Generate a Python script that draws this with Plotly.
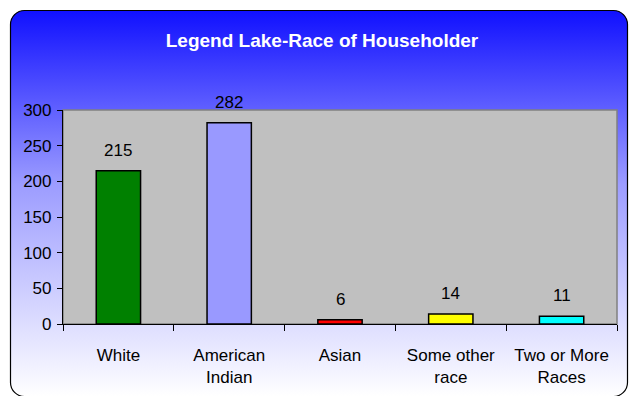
import base64
import plotly.graph_objects as go

# Householder counts by race, Legend Lake
categories = ["White", "American<br>Indian", "Asian", "Some other<br>race", "Two or More<br>Races"]
households = [215, 282, 6, 14, 11]
bar_colors = ["#008000", "#9999FF", "#FF0000", "#FFFF00", "#00FFFF"]
y_ticks = [0, 50, 100, 150, 200, 250, 300]

W, H = 636, 396
ML, MR, MT, MB = 63, 19, 110, 72
pw, ph = W - ML - MR, H - MT - MB

FONT = "Liberation Sans Narrow, Arial Narrow, Liberation Sans, Arial, sans-serif"

# rounded frame with a blue-to-white vertical gradient
svg = f"""<svg xmlns='http://www.w3.org/2000/svg' width='{W}' height='{H}' viewBox='0 0 {W} {H}' preserveAspectRatio='none'>
<defs><linearGradient id='g' x1='0' y1='0' x2='0' y2='1'>
<stop offset='0' stop-color='#1010FF'/><stop offset='0.45' stop-color='#9C9CFF'/><stop offset='1' stop-color='#FFFFFF'/>
</linearGradient></defs>
<rect x='10.5' y='10.5' width='617' height='386' rx='14' ry='14' fill='url(#g)' stroke='#000' stroke-width='1.2'/>
</svg>"""
bg_uri = "data:image/svg+xml;base64," + base64.b64encode(svg.encode()).decode()

fig = go.Figure(
    go.Bar(
        x=categories,
        y=households,
        marker=dict(color=bar_colors, line=dict(color="#000000", width=1.5)),
        width=0.4,
        hoverinfo="skip",
    )
)

# value labels above each bar
for c, v in zip(categories, households):
    fig.add_annotation(
        x=c, y=v, text=str(v), showarrow=False, yanchor="bottom", yshift=9,
        font=dict(family=FONT, size=17, color="#000000"),
    )

fig.add_layout_image(
    source=bg_uri, xref="paper", yref="paper",
    x=-ML / pw, y=1 + MT / ph, sizex=W / pw, sizey=H / ph,
    xanchor="left", yanchor="top", sizing="stretch", layer="below",
)

# gray plot area with a darker frame
fig.add_shape(
    type="rect", xref="paper", yref="paper", x0=0, x1=1, y0=0, y1=1,
    fillcolor="#C0C0C0", line=dict(color="#808080", width=1.5), layer="below",
)

fig.update_layout(
    width=W, height=H,
    margin=dict(l=ML, r=MR, t=MT, b=MB, pad=0, autoexpand=False),
    paper_bgcolor="#FFFFFF",
    plot_bgcolor="rgba(0,0,0,0)",
    showlegend=False,
    title=dict(
        text="<b>Legend Lake-Race of Householder</b>",
        x=322 / W, xref="container", xanchor="center",
        y=1 - 40 / H, yref="container", yanchor="middle",
        font=dict(family=FONT, size=19, color="#FFFFFF"),
    ),
    bargap=0.6,
    xaxis=dict(
        automargin=False,
        showline=True, linecolor="#000000", linewidth=1.2,
        ticks="outside", tickson="boundaries", ticklen=6, tickcolor="#000000",
        ticklabelstandoff=15,
        showgrid=False, zeroline=False,
        tickfont=dict(family=FONT, size=17, color="#000000"),
        fixedrange=True,
    ),
    yaxis=dict(
        automargin=False,
        range=[0, 300], tickvals=y_ticks,
        showline=True, linecolor="#000000", linewidth=1.2,
        ticks="outside", ticklen=5, tickcolor="#000000",
        ticklabelstandoff=2,
        showgrid=False, zeroline=False,
        tickfont=dict(family=FONT, size=17, color="#000000"),
        fixedrange=True,
    ),
)

fig.write_html("out.html", config={"displayModeBar": False})
